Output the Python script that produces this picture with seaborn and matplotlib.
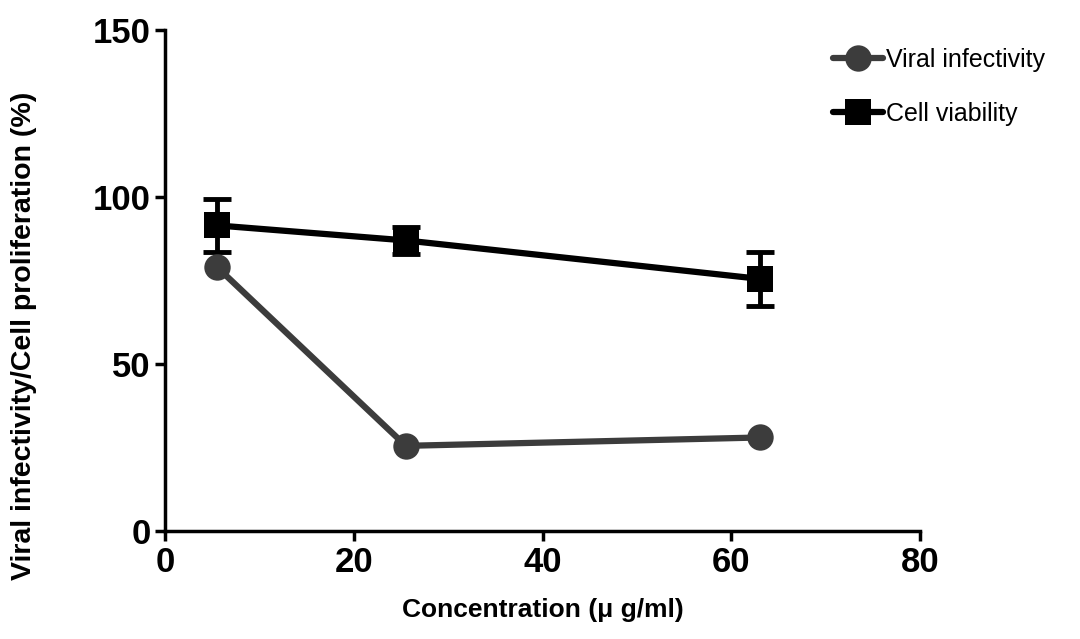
import matplotlib
matplotlib.use("Agg")
import matplotlib.pyplot as plt
import pandas as pd
import seaborn as sns

concentration = [5.5, 25.5, 63.0]
viral_infectivity = [79.0, 25.5, 28.0]
cell_viability = [91.5, 87.0, 75.5]
cell_viability_err = [8.0, 4.0, 8.0]

sns.set_style("ticks")
plt.rcParams['font.family'] = ['Liberation Sans', 'DejaVu Sans']
plt.rcParams['text.color'] = 'black'
plt.rcParams['xtick.color'] = 'black'
plt.rcParams['ytick.color'] = 'black'
plt.rcParams['axes.labelcolor'] = 'black'
plt.rcParams['axes.edgecolor'] = 'black'

df = pd.DataFrame({
    "conc": concentration * 2,
    "value": viral_infectivity + cell_viability,
    "series": ["Viral infectivity"] * 3 + ["Cell viability"] * 3,
})

fig = plt.figure(figsize=(10.8, 6.39), dpi=100)
ax = fig.add_axes([0.153, 0.169, 0.699, 0.784])

ax.errorbar(concentration, cell_viability, yerr=cell_viability_err, fmt="none",
            ecolor="black", elinewidth=3.5, capsize=10, capthick=3.5, zorder=2)
sns.lineplot(data=df, x="conc", y="value", hue="series", style="series",
             palette={"Viral infectivity": "#3c3c3c", "Cell viability": "black"},
             markers={"Viral infectivity": "o", "Cell viability": "s"},
             dashes=False, linewidth=4.5, markersize=19, markeredgewidth=0,
             ax=ax, zorder=3)

ax.set_xlim(0, 80)
ax.set_ylim(0, 150)
ax.set_xticks([0, 20, 40, 60, 80])
ax.set_yticks([0, 50, 100, 150])
sns.despine(ax=ax)
for s in ["left", "bottom"]:
    ax.spines[s].set_linewidth(2.5)
ax.tick_params(axis="both", width=2.5, length=7, labelsize=25)
for lab in ax.get_xticklabels() + ax.get_yticklabels():
    lab.set_fontweight("bold")
ax.set_xlabel("Concentration (\u03bc g/ml)", fontsize=19, fontweight="bold", labelpad=14)
ax.set_ylabel("Viral infectivity/Cell proliferation (%)", fontsize=20.5, fontweight="bold")
ax.yaxis.set_label_coords(-0.17, 0.39)

leg = ax.legend(loc="upper left", bbox_to_anchor=(0.855, 1.01), frameon=False,
                fontsize=18, handlelength=2.0, handletextpad=0.1, labelspacing=1.2)
leg.set_title(None)

fig.savefig("out.png", dpi=100)
